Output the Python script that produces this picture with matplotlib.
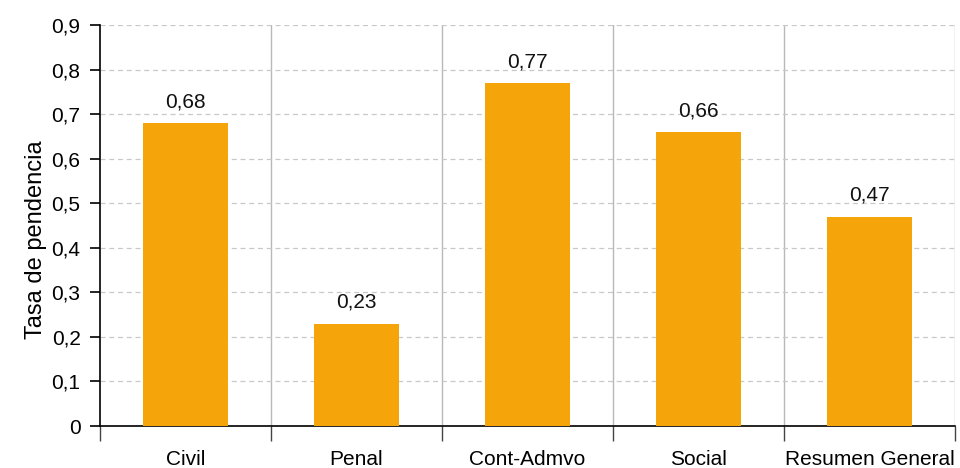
import matplotlib
matplotlib.use("Agg")
import matplotlib.pyplot as plt
import numpy as np

categorias = ["Civil", "Penal", "Cont-Admvo", "Social", "Resumen General"]
tasas = [0.68, 0.23, 0.77, 0.66, 0.47]
yticks = [0, 0.1, 0.2, 0.3, 0.4, 0.5, 0.6, 0.7, 0.8, 0.9]

plt.rcParams['font.family'] = ['Liberation Sans', 'DejaVu Sans']
plt.rcParams['font.size'] = 15

fig = plt.figure(figsize=(9.6, 4.68), dpi=100)
ax = fig.add_axes([0.1042, 0.0897, 0.8906, 0.8569])

x = np.arange(len(categorias))
ax.bar(x, tasas, width=0.5, color="#F5A40A", zorder=3)

for xi, v in zip(x, tasas):
    ax.annotate(f"{v:.2f}".replace(".", ","), (xi, v), xytext=(0, 8.5),
                textcoords="offset points", ha="center", va="bottom",
                fontsize=15, color="#111111")

ax.set_xlim(-0.5, len(categorias) - 0.5)
ax.set_ylim(0, 0.9)
ax.set_yticks(yticks)
ax.set_yticklabels([("%g" % t).replace(".", ",") for t in yticks])
ax.yaxis.grid(True, color="#c8c8c8", linestyle=(0, (4, 3)), linewidth=0.9)

# separadores de categoria
bounds = np.arange(len(categorias) + 1) - 0.5
for b in bounds[1:]:
    ax.axvline(b, color="#b8b8b8", linewidth=1.0, zorder=1)
ax.set_xticks(bounds)
ax.set_xticklabels([])
ax.set_xticks(x, minor=True)
ax.set_xticklabels(categorias, minor=True)
ax.tick_params(axis="x", which="major", length=11, width=1.0, color="#444444")
ax.tick_params(axis="x", which="minor", length=0, pad=17)
ax.tick_params(axis="y", length=7, width=1.2, color="black", pad=7)

ax.spines["top"].set_visible(False)
ax.spines["right"].set_visible(False)
ax.spines["left"].set_linewidth(1.2)
ax.spines["bottom"].set_linewidth(1.2)

ax.set_ylabel("Tasa de pendencia", fontsize=17)
ax.yaxis.set_label_coords(-0.062, 0.464)

fig.savefig("out.png", dpi=100)
